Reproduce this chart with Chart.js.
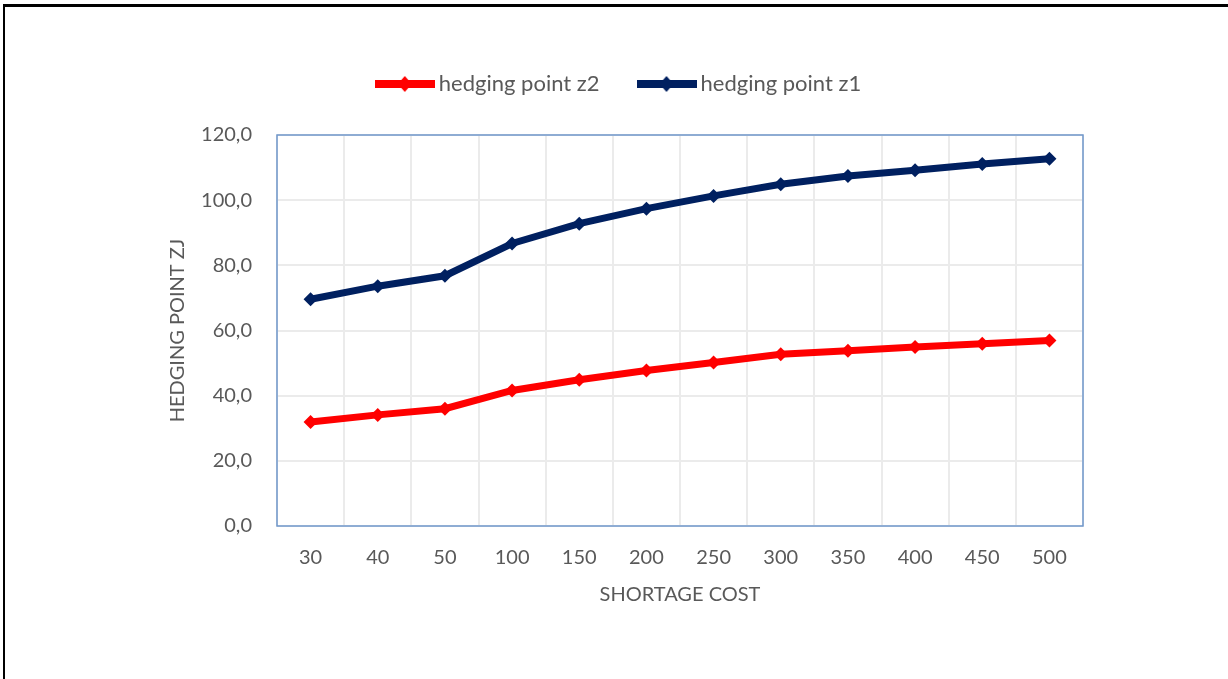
<!DOCTYPE html>
<html>
<head>
<meta charset="utf-8">
<script src="https://cdn.jsdelivr.net/npm/chart.js@4"></script>
<style>
  html, body { margin: 0; padding: 0; background: #fff; overflow: hidden; }
  #wrap { position: relative; width: 1228px; height: 679px; }
  #frame { position: absolute; left: 3px; top: 4px; right: -10px; bottom: -10px;
           border-top: 3px solid #000; border-left: 2px solid #000; pointer-events: none; }
</style>
</head>
<body>
<div id="wrap">
  <canvas id="lineChartID" width="1228" height="679"></canvas>
  <div id="frame"></div>
</div>
<script>
  var categories = ["30", "40", "50", "100", "150", "200", "250", "300", "350", "400", "450", "500"];
  var z2Values = [31.9, 34.1, 36.0, 41.6, 44.9, 47.7, 50.2, 52.7, 53.8, 54.9, 55.9, 56.9];
  var z1Values = [69.6, 73.6, 76.8, 86.7, 92.8, 97.4, 101.3, 104.9, 107.4, 109.2, 111.1, 112.7];
  var yTicks = [0, 20, 40, 60, 80, 100, 120];

  var fontFamily = "Lato, 'Open Sans', sans-serif";
  var textColor = "#595959";

  // little line + diamond image for the legend
  function legendMark(color) {
    var c = document.createElement('canvas');
    c.width = 60; c.height = 16;
    var g = c.getContext('2d');
    g.fillStyle = color;
    g.fillRect(0, 4, 60, 8);
    g.beginPath();
    g.moveTo(30, 0); g.lineTo(37, 8); g.lineTo(30, 16); g.lineTo(23, 8);
    g.closePath();
    g.fill();
    return c;
  }

  var plotFrame = {
    id: 'plotFrame',
    beforeInit: function (chart) {
      var fit = chart.legend.fit;
      chart.legend.fit = function () {
        fit.call(this);
        this.height += 30;
      };
    },
    beforeDatasetsDraw: function (chart) {
      var a = chart.chartArea, ctx = chart.ctx;
      ctx.save();
      ctx.strokeStyle = '#7098cc';
      ctx.lineWidth = 1.5;
      ctx.strokeRect(a.left, a.top, a.right - a.left, a.bottom - a.top);
      ctx.restore();
    }
  };

  var ctx = document.getElementById('lineChartID').getContext('2d');
  var myChart = new Chart(ctx, {
      type: 'line',
      plugins: [plotFrame],
      data: {
          labels: categories,
          datasets: [
              {
                  label: "hedging point z2",
                  data: z2Values,
                  borderColor: "#ff0000",
                  backgroundColor: "#ff0000",
                  borderWidth: 7,
                  pointStyle: 'rectRot',
                  pointRadius: 7,
                  pointHoverRadius: 7,
                  pointBorderWidth: 0,
                  tension: 0
              },
              {
                  label: "hedging point z1",
                  data: z1Values,
                  borderColor: "#002060",
                  backgroundColor: "#002060",
                  borderWidth: 7,
                  pointStyle: 'rectRot',
                  pointRadius: 7,
                  pointHoverRadius: 7,
                  pointBorderWidth: 0,
                  tension: 0
              }
          ]
      },
      options: {
          responsive: false,
          animation: false,
          layout: { padding: { top: 29, left: 160, right: 145, bottom: 0 } },
          plugins: {
              tooltip: { enabled: false },
              legend: {
                  display: true,
                  position: 'top',
                  labels: {
                      usePointStyle: true,
                      pointStyleWidth: 46,
                      padding: 44,
                      color: textColor,
                      font: { family: fontFamily, size: 22 },
                      generateLabels: function (chart) {
                          return chart.data.datasets.map(function (ds, i) {
                              return {
                                  text: ds.label,
                                  fillStyle: ds.borderColor,
                                  strokeStyle: ds.borderColor,
                                  lineWidth: 0,
                                  pointStyle: legendMark(ds.borderColor),
                                  datasetIndex: i,
                                  fontColor: textColor
                              };
                          });
                      }
                  }
              }
          },
          scales: {
              x: {
                  offset: true,
                  grid: { offset: true, color: '#ebebeb', lineWidth: 2, drawTicks: false },
                  border: { display: false },
                  ticks: { color: textColor, font: { family: fontFamily, size: 20 }, padding: 20 },
                  title: {
                      display: true,
                      text: 'SHORTAGE COST',
                      color: textColor,
                      font: { family: fontFamily, size: 20 },
                      padding: { top: 0, bottom: 72 }
                  },
                  afterFit: function (s) { s.height = 153; }
              },
              y: {
                  min: 0,
                  max: 120,
                  afterBuildTicks: function (s) {
                      s.ticks = yTicks.map(function (v) { return { value: v }; });
                  },
                  grid: { color: '#ebebeb', lineWidth: 2, drawTicks: false },
                  border: { display: false },
                  ticks: {
                      color: textColor,
                      font: { family: fontFamily, size: 20 },
                      padding: 25,
                      callback: function (v) { return v.toFixed(1).replace('.', ','); }
                  },
                  title: {
                      display: true,
                      text: 'HEDGING POINT ZJ',
                      color: textColor,
                      font: { family: fontFamily, size: 20 },
                      padding: { top: 6, bottom: 0 }
                  },
                  afterFit: function (s) { s.width = 117; }
              }
          }
      }
  });
</script>
</body>
</html>
